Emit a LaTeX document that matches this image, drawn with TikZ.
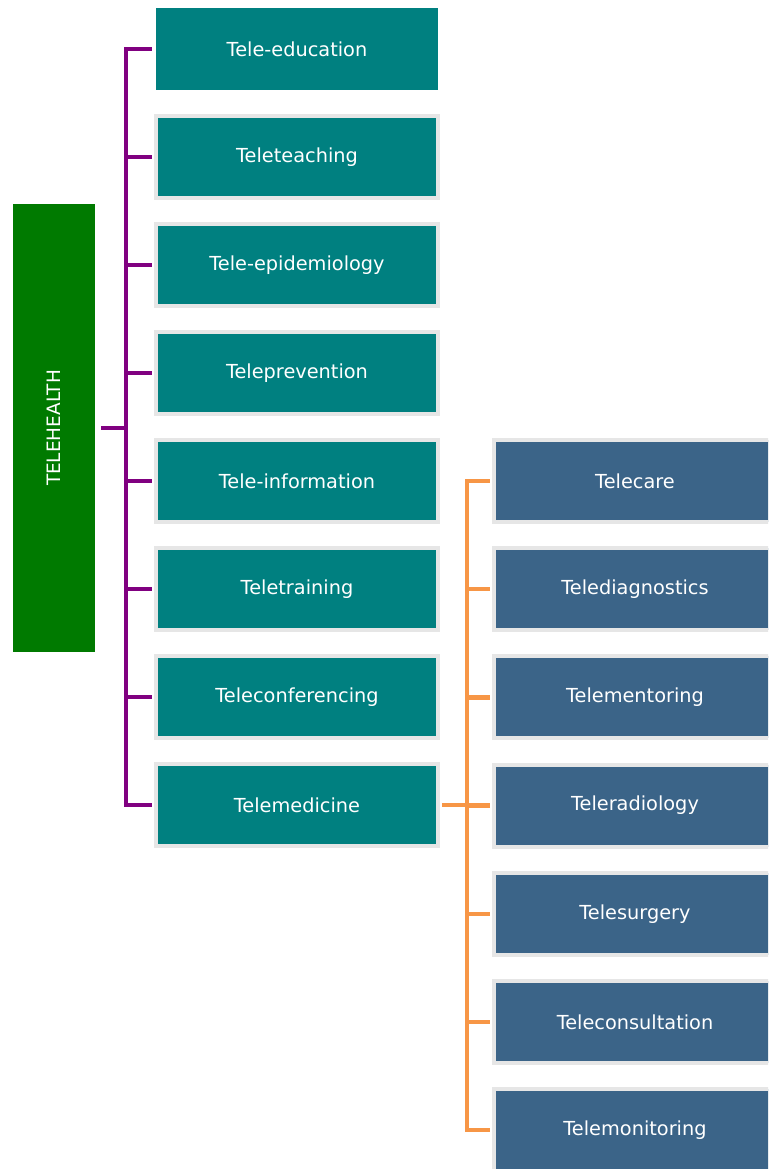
\documentclass[tikz,border=0pt]{standalone}
\usepackage{fontspec}
\setmainfont{DejaVu Sans}
\usetikzlibrary{positioning}
\definecolor{boxteal}{RGB}{0,128,128}
\definecolor{boxblue}{RGB}{59,100,136}
\definecolor{rootgreen}{RGB}{0,122,0}
\definecolor{linepurple}{RGB}{128,0,128}
\definecolor{lineorange}{RGB}{247,150,70}
\definecolor{rimgray}{RGB}{230,230,230}
\tikzset{
  topic/.style={rectangle, fill=boxteal, draw=rimgray, line width=2.2pt,
    minimum width=5.64cm, minimum height=1.64cm, inner sep=0pt,
    text=white, font=\fontsize{11}{13}\selectfont},
  subtopic/.style={topic, fill=boxblue},
  purplelink/.style={linepurple, line width=2.6pt},
  orangelink/.style={lineorange, line width=2.6pt},
}
\begin{document}
\begin{tikzpicture}[x=0.02cm,y=-0.02cm]
    \useasboundingbox (0,0) rectangle (768,1169);
    \clip (0,0) rectangle (768,1169);
    %% Root
    \node[fill=rootgreen, minimum width=1.64cm, minimum height=8.98cm, inner sep=0pt,
          text=white, font=\fontsize{10.5}{12}\selectfont] (root) at (54,428) {\rotatebox{90}{TELEHEALTH}};
    %% Telehealth branches
    \node[topic, draw=none] (t1) at (297,49) {Tele-education};
    \foreach \name [count=\i from 2] in {Teleteaching,Tele-epidemiology,Teleprevention,
        Tele-information,Teletraining,Teleconferencing,Telemedicine}
        \node[topic] (t\i) at (297,{49+108*(\i-1)}) {\name};
    %% Telemedicine branches
    \foreach \name [count=\i] in {Telecare,Telediagnostics,Telementoring,Teleradiology,
        Telesurgery,Teleconsultation,Telemonitoring}
        \node[subtopic] (m\i) at (635,{481+108.2*(\i-1)}) {\name};
    %% Purple connectors
    \coordinate (pbus) at (126,428);
    \draw[purplelink] ([xshift=0.12cm]root.east) -- (pbus);
    \draw[purplelink, line cap=rect] (t1.west -| pbus) -- (t8.west -| pbus);
    \foreach \i in {1,...,8}
        \draw[purplelink] (t\i.west -| pbus) -- ([xshift=-0.05cm]t\i.west);
    %% Orange connectors
    \coordinate (obus) at (467,805);
    \draw[orangelink] ([xshift=0.04cm]t8.east) -- (obus);
    \draw[orangelink, line cap=rect] (m1.west -| obus) -- (m7.west -| obus);
    \foreach \i in {1,...,7}
        \draw[orangelink] (m\i.west -| obus) -- ([xshift=-0.05cm]m\i.west);
\end{tikzpicture}
\end{document}
